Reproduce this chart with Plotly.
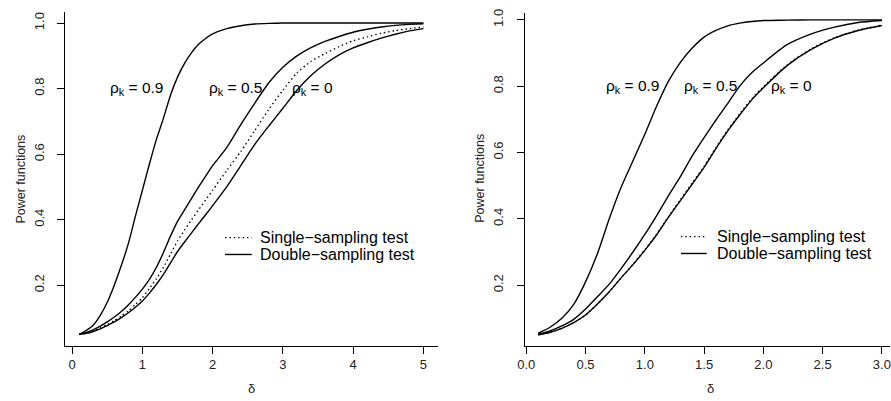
import plotly.graph_objects as go

# ---------------- data ----------------
delta_left = [0.1, 0.2, 0.3, 0.4, 0.5, 0.6, 0.7, 0.8, 0.9, 1.0,
              1.1, 1.2, 1.3, 1.4, 1.5, 1.6, 1.7, 1.8, 1.9, 2.0,
              2.2, 2.4, 2.6, 2.8, 3.0, 3.2, 3.4, 3.6, 3.8, 4.0,
              4.2, 4.4, 4.6, 4.8, 5.0]
left_rho09 = [0.050, 0.062, 0.078, 0.108, 0.148, 0.200, 0.260, 0.327, 0.410, 0.490,
              0.570, 0.645, 0.710, 0.780, 0.835, 0.877, 0.910, 0.935, 0.953, 0.967,
              0.983, 0.992, 0.997, 0.999, 1.000, 1.000, 1.000, 1.000, 1.000, 1.000,
              1.000, 1.000, 1.000, 1.000, 1.000]
left_rho05 = [0.050, 0.056, 0.064, 0.075, 0.088, 0.103, 0.120, 0.140, 0.163, 0.188,
              0.218, 0.255, 0.300, 0.350, 0.395, 0.430, 0.465, 0.500, 0.533, 0.565,
              0.620, 0.690, 0.756, 0.818, 0.865, 0.900, 0.925, 0.944, 0.959, 0.972,
              0.981, 0.988, 0.993, 0.996, 0.998]
left_rho0 = [0.050, 0.053, 0.059, 0.067, 0.077, 0.088, 0.101, 0.116, 0.133, 0.152,
             0.176, 0.203, 0.233, 0.268, 0.303, 0.332, 0.360, 0.388, 0.415, 0.443,
             0.500, 0.565, 0.630, 0.686, 0.740, 0.795, 0.840, 0.875, 0.903, 0.924,
             0.940, 0.954, 0.966, 0.976, 0.983]
left_single = [0.050, 0.054, 0.061, 0.070, 0.080, 0.092, 0.106, 0.122, 0.141, 0.162,
               0.190, 0.220, 0.255, 0.295, 0.335, 0.368, 0.400, 0.430, 0.460, 0.490,
               0.550, 0.608, 0.672, 0.737, 0.795, 0.848, 0.883, 0.907, 0.928, 0.946,
               0.958, 0.969, 0.977, 0.983, 0.988]

delta_right = [0.1, 0.2, 0.3, 0.4, 0.5, 0.6, 0.7, 0.8, 0.9, 1.0,
               1.1, 1.2, 1.3, 1.4, 1.5, 1.6, 1.7, 1.8, 1.9, 2.0,
               2.2, 2.4, 2.6, 2.8, 3.0]
right_rho09 = [0.055, 0.073, 0.100, 0.142, 0.210, 0.295, 0.400, 0.495, 0.575, 0.655,
               0.740, 0.815, 0.872, 0.915, 0.948, 0.968, 0.982, 0.990, 0.995, 0.998,
               0.999, 1.000, 1.000, 1.000, 1.000]
right_rho05 = [0.052, 0.062, 0.077, 0.097, 0.128, 0.165, 0.203, 0.250, 0.300, 0.353,
               0.410, 0.470, 0.527, 0.590, 0.645, 0.698, 0.748, 0.800, 0.840, 0.870,
               0.925, 0.957, 0.978, 0.992, 0.998]
right_rho0 = [0.050, 0.058, 0.070, 0.087, 0.110, 0.143, 0.180, 0.222, 0.262, 0.305,
              0.352, 0.405, 0.455, 0.505, 0.555, 0.612, 0.665, 0.713, 0.758, 0.795,
              0.862, 0.910, 0.945, 0.968, 0.983]
right_single = [0.050, 0.058, 0.070, 0.087, 0.110, 0.143, 0.180, 0.222, 0.263, 0.307,
                0.354, 0.407, 0.458, 0.508, 0.558, 0.615, 0.668, 0.716, 0.761, 0.798,
                0.864, 0.912, 0.946, 0.969, 0.984]

y_ticks = [0.2, 0.4, 0.6, 0.8, 1.0]
y_ticktext = ["0.2", "0.4", "0.6", "0.8", "1.0"]
left_xticks = [0, 1, 2, 3, 4, 5]
right_xticks = [0.0, 0.5, 1.0, 1.5, 2.0, 2.5, 3.0]
rho_labels = ["0.9", "0.5", "0"]
left_label_x = [0.92, 2.32, 3.42]
right_label_x = [0.90, 1.55, 2.24]
label_y = 0.8
legend_names = ["Single−sampling test", "Double−sampling test"]

FONT = "Liberation Sans, Arial, Helvetica, sans-serif"
W, H = 891, 401
DOT = "1.4px,3px"

fig = go.Figure()

solid = dict(color="black", width=1.4, shape="spline", smoothing=0.6)
dotted = dict(color="black", width=1.4, dash=DOT, shape="spline", smoothing=0.6)

panels = [
    ("x", "y", delta_left, left_single, [left_rho09, left_rho05, left_rho0]),
    ("x2", "y2", delta_right, right_single, [right_rho09, right_rho05, right_rho0]),
]
for xa, ya, d, single, doubles in panels:
    fig.add_trace(go.Scatter(x=d, y=single, mode="lines", line=dotted, xaxis=xa, yaxis=ya,
                             name=legend_names[0], showlegend=False, hoverinfo="skip"))
    for ys in doubles:
        fig.add_trace(go.Scatter(x=d, y=ys, mode="lines", line=solid, xaxis=xa, yaxis=ya,
                                 name=legend_names[1], showlegend=False, hoverinfo="skip"))

axis_common = dict(showgrid=False, zeroline=False, showline=True, linecolor="black",
                   linewidth=1.2, ticks="outside", ticklen=7, tickwidth=1.1,
                   tickcolor="black", mirror=False,
                   tickfont=dict(family=FONT, size=13, color="#222"))

fig.update_layout(
    width=W, height=H,
    margin=dict(l=0, r=0, t=0, b=0),
    paper_bgcolor="white", plot_bgcolor="white",
    font=dict(family=FONT, color="black"),
    showlegend=False,
    xaxis=dict(domain=[58.7 / W, 435 / W], range=[-0.099, 5.209],
               tickvals=left_xticks, ticktext=[str(v) for v in left_xticks],
               anchor="y", ticklabelstandoff=0, **axis_common),
    yaxis=dict(domain=[1 - 345 / H, 1 - 8 / H], range=[0.016, 1.034],
               tickvals=y_ticks, ticktext=y_ticktext,
               tickangle=-90, anchor="x", ticklabelstandoff=8, **axis_common),
    xaxis2=dict(domain=[522.3 / W, 1.0], range=[-0.0142, 3.0686],
                tickvals=right_xticks, ticktext=[f"{v:.1f}" for v in right_xticks],
                anchor="y2", ticklabelstandoff=0, ticklabeloverflow="allow", **axis_common),
    yaxis2=dict(domain=[1 - 345 / H, 1 - 9 / H], range=[0.0179, 1.0209],
                tickvals=y_ticks, ticktext=y_ticktext, tickangle=-90, anchor="x2",
                ticklabelstandoff=8, **axis_common),
)

ann = []
for xr, yr, xs in [("x", "y", left_label_x), ("x2", "y2", right_label_x)]:
    for lab, lx in zip(rho_labels, xs):
        ann.append(dict(x=lx, y=label_y, xref=xr, yref=yr, showarrow=False,
                        text=f"ρ<sub>k</sub> = {lab}", xanchor="center", yanchor="middle",
                        font=dict(family=FONT, size=15.5, color="black")))
# axis titles
for px in [14, 477.3]:
    ann.append(dict(x=px / W, y=1 - 176.5 / H, xref="paper", yref="paper", showarrow=False,
                    text="Power functions", textangle=-90, xanchor="center", yanchor="middle",
                    font=dict(family=FONT, size=12.5, color="#222")))
for px in [246.8, 709.5]:
    ann.append(dict(x=px / W, y=1 - 388 / H, xref="paper", yref="paper", showarrow=False,
                    text="δ", xanchor="center", yanchor="middle",
                    font=dict(family=FONT, size=13, color="#222")))

# manual legends (R style, no box)
shapes = []
legend_specs = [  # sample x0, x1, text x, row y's
    (220, 247, 253, [236, 253]),
    (680, 706, 714, [235, 252]),
]
for x0, x1, tx, rows in legend_specs:
    for name, ry, dash in zip(legend_names, rows, [DOT, "solid"]):
        shapes.append(dict(type="line", xref="paper", yref="paper",
                           x0=x0 / W, x1=x1 / W, y0=1 - ry / H, y1=1 - ry / H,
                           line=dict(color="black", width=1.4, dash=dash)))
        ann.append(dict(x=tx / W, y=1 - ry / H, xref="paper", yref="paper", showarrow=False,
                        text=name, xanchor="left", yanchor="middle",
                        font=dict(family=FONT, size=16, color="black")))

fig.update_layout(annotations=ann, shapes=shapes)

fig.write_html("out.html")
